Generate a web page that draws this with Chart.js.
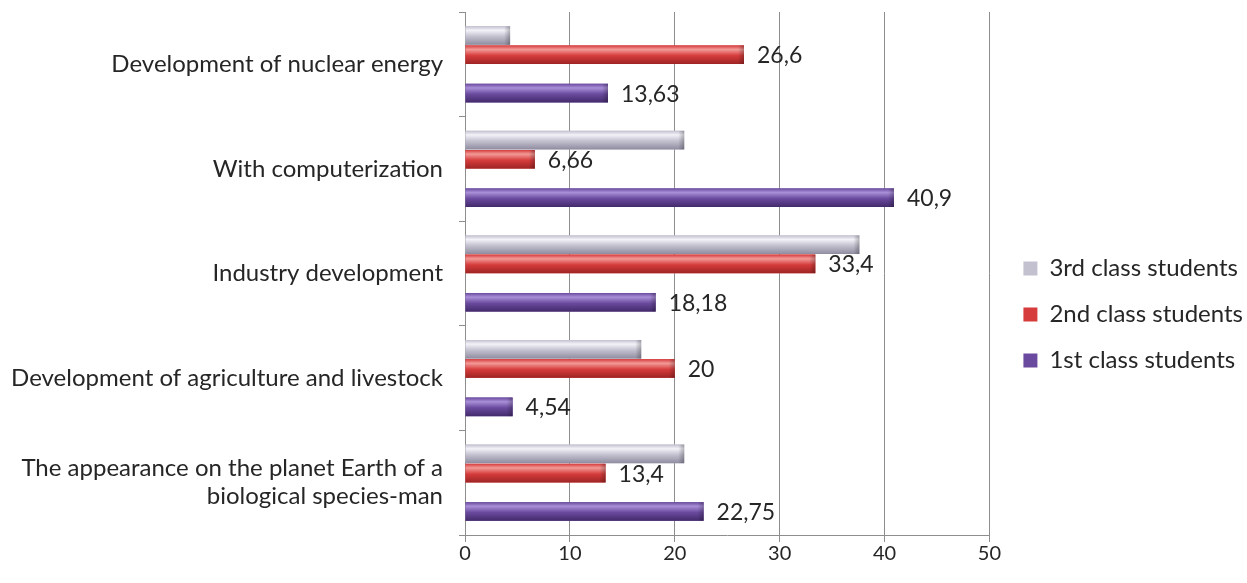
<!DOCTYPE html>
<html><head><meta charset="utf-8">
<script src="https://cdn.jsdelivr.net/npm/chart.js@4.4.1/dist/chart.umd.min.js"></script>
<style>html,body{margin:0;padding:0;background:#fff}#wrap{width:1247px;height:583px}</style>
</head><body><div id="wrap"><canvas id="c" width="1247" height="583"></canvas></div>
<script>
const categories = [
  'Development of nuclear energy',
  'With computerization',
  'Industry development',
  'Development of agriculture and livestock',
  ['The appearance on the planet Earth of a', 'biological species-man']
];
const seriesNames = ['3rd class students', '2nd class students', '1st class students'];
const third  = [4.3, 20.9, 37.6, 16.8, 20.9];
const second = [26.6, 6.66, 33.4, 20, 13.4];
const first  = [13.63, 40.9, 18.18, 4.54, 22.75];
const xTicks = [0, 10, 20, 30, 40, 50];

const FONT = 'Lato, "Open Sans", sans-serif';
const palette = {
  gray:   {main:'#c3c0cf', light:'#f3f2f8', dark:'#8f8ca0'},
  red:    {main:'#d63c3c', light:'#f29a97', dark:'#9e2424'},
  purple: {main:'#6a4a9e', light:'#a98fd8', dark:'#432a6b'}
};

const barShade = {
  id:'barShade',
  afterDatasetsDraw(chart){
    const ctx = chart.ctx;
    chart.data.datasets.forEach((ds, i) => {
      if (!ds.shade) return;
      const meta = chart.getDatasetMeta(i);
      meta.data.forEach(el => {
        if (el.skip || el.x == null || isNaN(el.x)) return;
        const h = el.height, top = el.y - h/2;
        const x0 = Math.min(el.base, el.x), w = Math.abs(el.x - el.base);
        const g = ctx.createLinearGradient(0, top, 0, top + h);
        g.addColorStop(0, ds.shade.main);
        g.addColorStop(0.22, ds.shade.light);
        g.addColorStop(0.55, ds.shade.main);
        g.addColorStop(1, ds.shade.dark);
        ctx.save();
        ctx.fillStyle = g;
        ctx.fillRect(x0, top, w, h);
        const g2 = ctx.createLinearGradient(x0 + w - 6, 0, x0 + w, 0);
        g2.addColorStop(0, 'rgba(0,0,0,0)');
        g2.addColorStop(1, 'rgba(0,0,0,0.25)');
        ctx.fillStyle = g2;
        ctx.fillRect(x0 + w - 6, top, 6, h);
        ctx.restore();
      });
    });
  }
};

const valueLabels = {
  id:'valueLabels',
  afterDatasetsDraw(chart){
    const ctx = chart.ctx;
    ctx.save();
    ctx.font = '23px ' + FONT;
    ctx.fillStyle = '#262626';
    ctx.textAlign = 'left';
    ctx.textBaseline = 'middle';
    chart.data.datasets.forEach((ds, i) => {
      if (!ds.showValues) return;
      const meta = chart.getDatasetMeta(i);
      meta.data.forEach((el, j) => {
        const v = ds.data[j];
        if (v == null) return;
        ctx.fillText(String(v).replace('.', ','), el.x + 13, el.y + 1);
      });
    });
    ctx.restore();
  }
};

const legendShift = {
  id:'legendShift',
  afterLayout(chart){
    if (chart.legend) { chart.legend.left += 12; chart.legend.right += 12; }
  }
};

new Chart(document.getElementById('c'), {
  type:'bar',
  data:{
    labels: categories,
    datasets:[
      {label: seriesNames[0], data: third,  backgroundColor: palette.gray.main,   shade: palette.gray},
      {label: seriesNames[1], data: second, backgroundColor: palette.red.main,    shade: palette.red, showValues:true},
      {label: '', data: categories.map(() => null), backgroundColor: 'rgba(0,0,0,0)'},
      {label: seriesNames[2], data: first,  backgroundColor: palette.purple.main, shade: palette.purple, showValues:true}
    ]
  },
  options:{
    indexAxis:'y',
    responsive:false,
    animation:false,
    devicePixelRatio:1,
    categoryPercentage:0.734,
    barPercentage:0.97,
    layout:{padding:{top:12, bottom:0, left:0, right:6}},
    scales:{
      x:{
        min:0, max:50,
        afterBuildTicks(s){ s.ticks = xTicks.map(v => ({value:v})); },
        afterFit(s){ s.height = 48; },
        grid:{color:'#8e8e8e', lineWidth:1, tickLength:7, drawTicks:true},
        border:{color:'#8e8e8e'},
        ticks:{font:{family:FONT, size:20}, color:'#262626', padding:0, maxRotation:0}
      },
      y:{
        afterFit(s){ s.width = 465; s.paddingTop = 0; s.paddingBottom = 0; },
        grid:{offset:true, drawOnChartArea:false, color:'#8e8e8e', tickLength:6},
        border:{color:'#8e8e8e'},
        ticks:{font:{family:FONT, size:24, lineHeight:1.17}, color:'#262626', padding:16}
      }
    },
    plugins:{
      legend:{
        position:'right',
        title:{display:true, text:' ', font:{size:10}, padding:{top:0, bottom:22}},
        labels:{
          font:{family:FONT, size:24}, color:'#262626',
          boxWidth:14, boxHeight:14, padding:22,
          filter: item => item.text !== ''
        }
      },
      tooltip:{enabled:false}
    }
  },
  plugins:[barShade, valueLabels, legendShift]
});
</script>
</body></html>
